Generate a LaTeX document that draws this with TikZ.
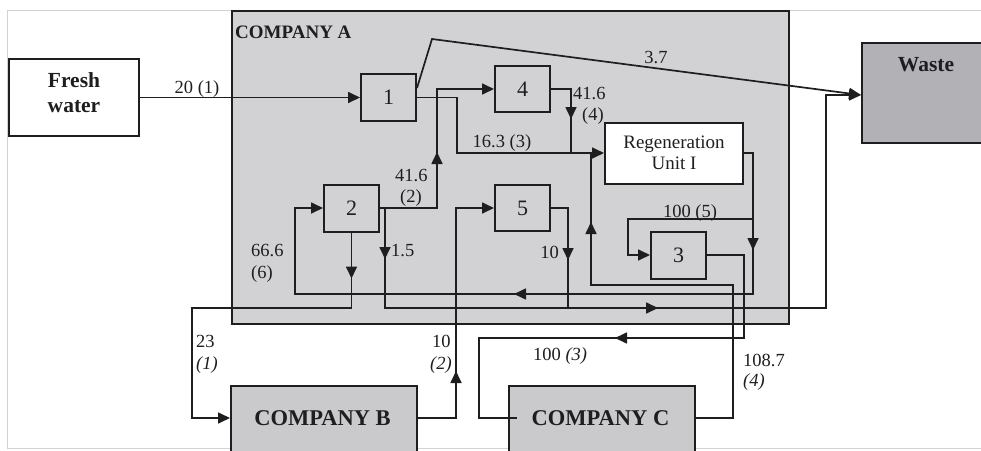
\documentclass[tikz,border=0pt]{standalone}
\usepackage{fontspec}
\setmainfont{Liberation Serif}
\usetikzlibrary{arrows.meta,decorations.markings,calc}
\definecolor{ink}{HTML}{1E1E1E}
\definecolor{compA}{HTML}{D2D2D5}
\definecolor{compBC}{HTML}{CACACD}
\definecolor{wastefill}{HTML}{B2B2B6}
\definecolor{framegray}{HTML}{D2D2D2}
\tikzset{
  >={Triangle[length=12pt,width=11pt]},
  flow/.style={draw=ink, line width=1.7pt},
  mid/.style={postaction={decorate,decoration={markings,mark=at position #1 with {\arrow{>}}}}},
  unitbox/.style={draw=ink, line width=2pt, fill=compA, minimum width=55pt, minimum height=47pt, inner sep=0pt, font=\fontsize{22}{24}\selectfont, text=ink},
  bigbox/.style={draw=ink, line width=2pt, inner sep=0pt},
  lbl/.style={inner sep=0pt, font=\fontsize{18.5}{20}\selectfont, text=ink},
  title/.style={inner sep=0pt, font=\fontsize{21.5}{25}\selectfont\bfseries, text=ink, align=center},
}
\begin{document}
\begin{tikzpicture}[x=1pt,y=-1pt]
\useasboundingbox (0,0) rectangle (981,450);
\draw[framegray, line width=0.8pt] (7,10) rectangle (995,448);

% boxes
\node[bigbox, line width=2.4pt, fill=compA, minimum width=557pt, minimum height=313pt] (cA) at (510.5,167.5) {};
\node[inner sep=0pt, font=\fontsize{19}{21}\selectfont\bfseries, text=ink, anchor=base west] (cAt) at (235,38) {COMPANY A};
\node[bigbox, fill=white, minimum width=130pt, minimum height=77pt] (fw) at (74,97.5) {};
\node[title] (fwt) at (74,92.2) {Fresh\\water};
\node[bigbox, fill=wastefill, minimum width=128pt, minimum height=100pt] (waste) at (926,93) {};
\node[title, anchor=base] (wastet) at (926,71) {Waste};
\node[bigbox, fill=compBC, minimum width=186pt, minimum height=70pt] (cB) at (324,421) {};
\node[inner sep=0pt, font=\fontsize{22.5}{25}\selectfont\bfseries, text=ink, anchor=base] (cBt) at (322.5,425) {COMPANY B};
\node[bigbox, fill=compBC, minimum width=186pt, minimum height=70pt] (cC) at (602,421) {};
\node[inner sep=0pt, font=\fontsize{22.5}{25}\selectfont\bfseries, text=ink, anchor=base] (cCt) at (600.5,425) {COMPANY C};

\node[unitbox] (b1) at (388.5,97.5) {1};
\node[unitbox, minimum height=46pt] (b4) at (522.5,89) {4};
\node[unitbox] (b2) at (351.5,208) {2};
\node[unitbox, minimum height=46pt] (b5) at (522.5,208) {5};
\node[unitbox] (b3) at (678.5,255) {3};
\node[bigbox, fill=white, minimum width=138pt, minimum height=61pt, align=center, font=\fontsize{19}{21}\selectfont, text=ink] (reg) at (674,153) {Regeneration\\Unit I};

% junction coordinates
\coordinate (peak) at (432,39);
\coordinate (j16) at (457,153);
\coordinate (j4) at (571,153);
\coordinate (j2u) at (437,89);
\coordinate (j15a) at (385,208);
\coordinate (j15b) at (826,308);
\coordinate (j10) at (568,308);
\coordinate (c9a) at (192,308);
\coordinate (c9b) at (192,418);
\coordinate (j8) at (456,208);
\coordinate (r1) at (753,294);
\coordinate (r2) at (295,208);
\coordinate (s1) at (753,219);
\coordinate (s2) at (628,255);
\coordinate (t1) at (744,338);
\coordinate (t2) at (479,418);
\coordinate (u1) at (733,285);
\coordinate (u2) at (591,153);

% connectors
\draw[flow,->] (fw) -- (b1);
\draw[flow,->] ([yshift=9.5pt]b1.east) -- (peak) -- ([yshift=-2pt]waste.west);
\draw[flow,->] (b1.east) -| (j16) -- (reg.west);
\draw[flow, mid=50pt] (b4.east) -| (j4);
\draw[flow,->, mid=113pt] (b2.east) -| (j2u) -- (b4.west);
\draw[flow,->, mid=51pt, mid=373pt] (j15a) |- (j15b) |- ([yshift=-2pt]waste.west);
\draw[flow, mid=69pt] (b5.east) -| (j10);
\draw[flow,->, mid=46pt] (b2.south) |- (c9a) -- (c9b) -- (c9b -| cB.west);
\draw[flow,->, mid=85pt] (c9b -| cB.east) -| (j8) -- (b5.west);
\draw[flow,->, mid=106pt, mid=389pt] (reg.east) -| (r1) -- (r1 -| r2) -- (r2) -- (b2.west);
\draw[flow,->] (s1) -| (s2) -- (b3.west);
\draw[flow, mid=249pt] (b3.east) -| (t1) -- (t1 -| t2) -- (t2) -- ($(t2 -| cC.west)+(9,0)$);
\draw[flow, mid=375pt] (c9b -| cC.east) -| (u1) -- (u1 -| u2) -- (u2);

% labels
\node[lbl, anchor=base] (l20) at (197,93) {20 (1)};
\node[lbl, anchor=base] (l37) at (656,63) {3.7};
\node[lbl, anchor=base] (l163) at (502,147) {16.3 (3)};
\node[lbl, anchor=base west] (l416a) at (573,99) {41.6};
\node[lbl, anchor=base west] (l4) at (582,120) {(4)};
\node[lbl, anchor=base west] (l416b) at (395,181) {41.6};
\node[lbl, anchor=base west] (l2) at (400,202) {(2)};
\node[lbl, anchor=base west] (l15) at (391,256) {1.5};
\node[lbl, anchor=base east] (l10) at (559,258) {10};
\node[lbl, anchor=base] (l1005) at (690,217) {100 (5)};
\node[lbl, anchor=base west] (l666) at (251,256) {66.6};
\node[lbl, anchor=base west] (l6) at (251,278) {(6)};
\node[lbl, anchor=base west] (l23) at (196,347) {23};
\node[lbl, anchor=base west] (l1i) at (196,369) {\textit{(1)}};
\node[lbl, anchor=base west] (l10b) at (432,347) {10};
\node[lbl, anchor=base west] (l2i) at (430,369) {\textit{(2)}};
\node[lbl, anchor=base west] (l1003) at (533,360) {100 \textit{(3)}};
\node[lbl, anchor=base west] (l1087) at (743,366) {108.7};
\node[lbl, anchor=base west] (l4i) at (743,386) {\textit{(4)}};
\end{tikzpicture}
\end{document}
